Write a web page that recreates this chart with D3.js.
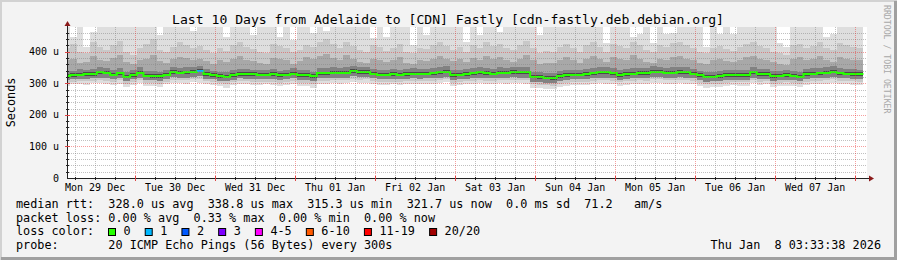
<!doctype html>
<html lang="en">
<head>
<meta charset="UTF-8" />
<title>Last 10 Days from Adelaide to [CDN] Fastly</title>
<style>
  html, body { margin: 0; padding: 0; background: #f3f3f3; }
  svg { display: block; }
  text { font-family: "DejaVu Sans Mono", monospace; fill: #000; white-space: pre; }
</style>
</head>
<body>
<svg id="chart" width="897" height="260"></svg>
<script src="https://cdn.jsdelivr.net/npm/d3@7"></script>
<script>
// one value per 2 hour step, 120 steps, in microseconds
const median = [
  323,325,327,328,329,334,333,327,331,321,326,333,324,323,322,327,335,333,334,337,
  339,328,326,322,320,325,329,329,328,327,327,328,326,327,330,326,326,322,331,331,
  333,333,333,338,335,335,330,327,327,328,327,329,330,330,330,331,334,336,326,327,
  329,331,334,332,330,333,333,335,334,334,320,319,317,316,322,326,327,327,328,331,
  334,334,331,326,329,330,332,332,337,336,333,333,335,334,330,325,320,321,322,325,
  326,326,326,334,328,329,322,324,326,324,321,329,330,331,333,336,331,330,329,328
];
const smokeMax = [
  500,447,500,415,463,500,500,500,500,500,500,500,500,500,453,500,500,500,500,465,
  500,500,500,500,447,500,500,500,453,500,500,500,447,500,437,500,500,460,500,465,
  500,500,500,500,500,500,442,500,447,500,500,500,421,500,453,500,500,500,500,500,
  431,500,453,500,500,463,500,500,500,500,500,453,500,500,500,500,500,500,500,500,
  500,427,500,500,500,447,457,500,427,500,457,460,500,500,500,500,415,500,457,500,
  457,500,500,500,500,500,500,427,415,500,500,500,500,500,447,457,500,500,500,500
];
const smokeP18 = [
  410,425,400,395,430,415,405,420,435,400,390,410,425,440,405,398,415,430,420,412,
  418,405,395,410,402,420,430,415,408,400,395,425,418,410,398,405,422,415,430,440,
  425,410,432,418,405,398,420,415,402,410,425,400,395,412,408,420,430,418,405,415,
  400,422,410,430,418,425,412,405,420,435,410,395,402,400,415,425,410,398,420,430,
  415,400,425,418,410,432,420,405,398,422,415,428,430,420,410,400,395,412,418,408,
  402,415,425,430,418,410,400,395,390,420,425,410,418,430,412,405,428,420,415,410
];
const smokeP15 = [
  372,378,365,368,385,375,370,380,388,366,360,372,378,390,370,365,376,384,380,374,
  378,370,362,372,366,378,386,374,370,365,360,380,376,372,362,370,382,376,385,392,
  380,372,388,378,368,364,376,374,366,372,382,364,360,374,370,378,386,376,370,376,
  366,380,372,386,378,382,374,368,378,390,372,360,365,364,374,382,372,365,378,386,
  376,366,382,376,372,388,378,368,364,378,374,384,386,378,372,364,360,372,376,370,
  366,374,382,386,376,372,366,362,358,378,382,372,376,386,372,368,384,378,374,372
];
const smokeP12 = [
  338,340,344,342,345,350,348,341,347,336,342,350,339,338,337,343,352,348,350,352,
  355,344,340,337,335,341,346,344,343,342,341,345,340,343,347,341,342,337,348,347,
  350,349,350,356,352,351,346,342,343,344,342,346,347,345,346,348,352,353,341,343,
  345,348,352,348,346,350,349,352,351,350,336,334,332,332,338,342,343,342,344,348,
  352,350,347,342,346,347,349,348,354,352,349,350,352,350,346,340,335,336,338,341,
  342,342,341,351,344,346,338,340,342,339,337,346,347,348,350,353,347,346,345,343
];
const smokeCoreHi = [
  329,331,333,334,335,340,339,333,337,327,332,339,330,329,328,333,341,339,340,343,
  345,334,332,328,326,331,335,335,334,333,333,334,332,333,336,332,332,328,337,337,
  339,339,339,344,341,341,336,333,333,334,333,335,336,336,336,337,340,342,332,333,
  335,337,340,338,336,339,339,341,340,340,326,325,323,322,328,332,333,333,334,337,
  340,340,337,332,335,336,338,338,343,342,339,339,341,340,336,331,326,327,328,331,
  332,332,332,340,334,335,328,330,332,330,327,335,336,337,339,342,337,336,335,334
];
const smokeCoreLo = [
  318,320,322,323,324,329,328,322,326,316,321,328,319,318,317,322,330,328,329,332,
  334,323,321,317,315,320,324,324,323,322,322,323,321,322,325,321,321,317,326,326,
  328,328,328,333,330,330,325,322,322,323,322,324,325,325,325,326,329,331,321,322,
  324,326,329,327,325,328,328,330,329,329,315,314,312,311,317,321,322,322,323,326,
  329,329,326,321,324,325,327,327,332,331,328,328,330,329,325,320,315,316,317,320,
  321,321,321,329,323,324,317,319,321,319,316,324,325,326,328,331,326,325,324,323
];
const smokeP5 = [
  310,312,313,314,315,318,317,313,316,307,312,318,310,309,308,313,319,318,318,321,
  322,314,312,308,306,311,315,314,313,312,313,313,311,313,315,311,311,307,316,316,
  318,317,318,322,319,320,315,312,312,313,312,314,315,314,315,316,318,320,311,312,
  314,316,318,316,315,318,317,319,318,318,305,304,302,301,307,311,312,312,313,316,
  318,318,316,311,314,315,317,316,320,320,317,317,319,318,315,310,305,306,307,310,
  311,311,311,318,313,314,307,309,311,309,306,313,315,316,317,320,316,315,314,313
];
const smokeP2 = [
  302,305,306,306,308,310,308,305,309,298,304,310,302,300,299,305,311,310,309,313,
  312,306,304,300,297,303,307,306,305,304,305,305,302,305,307,302,301,297,308,308,
  310,309,311,314,311,312,307,304,303,305,304,306,307,306,307,308,310,312,302,304,
  306,308,310,308,307,310,309,311,310,309,296,295,293,292,298,302,304,303,305,308,
  310,310,308,303,306,307,309,308,312,312,309,309,311,310,307,301,296,297,298,302,
  303,303,303,310,305,306,298,301,303,301,297,305,307,308,309,312,308,307,306,305
];
const smokeMin = [
  292,296,298,295,300,302,298,294,299,288,295,300,292,290,289,296,302,300,298,304,
  300,296,294,290,286,293,298,296,295,294,296,295,292,294,298,292,290,286,298,297,
  300,298,302,304,300,301,297,294,293,296,295,297,298,296,297,298,300,303,292,294,
  296,298,300,297,296,300,299,301,300,299,286,284,282,281,288,292,294,293,295,298,
  300,299,297,292,295,296,299,297,302,301,298,298,300,299,296,290,286,287,288,292,
  293,292,292,300,294,296,288,290,292,290,287,295,296,297,299,302,297,296,295,294
];
const lossCount = [
  0,0,0,0,0,0,0,0,0,0,0,0,0,0,0,0,0,0,0,0,
  1,0,0,0,0,0,0,0,0,0,0,0,0,0,0,0,0,0,0,0,
  0,0,0,0,0,0,0,0,0,0,0,0,0,0,0,0,0,0,0,0,
  0,0,0,0,0,0,0,0,0,0,0,0,0,0,0,0,0,0,0,0,
  0,0,0,0,0,0,0,0,0,0,0,0,0,0,0,0,0,0,0,0,
  0,0,0,0,0,0,0,0,0,0,0,0,0,0,0,0,0,0,0,0
];

const lossLabels = ["0", "1", "2", "3", "4-5", "6-10", "11-19", "20/20"];
const lossColors = ["#26ff00", "#00b8ff", "#0059ff", "#7e00ff", "#ff00ff", "#ff5a00", "#ff0000", "#a10000"];
const rttStats = [328.0, 338.8, 315.3, 321.7];
const lossStats = [0.00, 0.33, 0.00, 0.00];
const yTicks = [0, 100, 200, 300, 400];

const start = new Date(2025, 11, 29, 3, 33, 38);
const end = new Date(2026, 0, 8, 3, 33, 38);
const firstStep = new Date(2025, 11, 29, 2, 30, 0);
const stepMs = 2 * 3600 * 1000;

const W = 897, H = 260;
const pLeft = 67, pRight = 867, pTop = 27, pBottom = 178;

const svg = d3.select("#chart");
const x = d3.scaleTime().domain([start, end]).range([pLeft, pRight]);
const y = d3.scaleLinear().domain([0, 478]).range([pBottom, pTop]);

// background + 3d frame
svg.append("rect").attr("width", W).attr("height", H).attr("fill", "#f3f3f3");
svg.append("path").attr("d", `M1,${H} V1 H${W}`).attr("fill", "none").attr("stroke", "#d2d2d2").attr("stroke-width", 2);
svg.append("path").attr("d", `M${W - 1.5},1 V${H - 1.5} H1`).attr("fill", "none").attr("stroke", "#a0a0a0").attr("stroke-width", 3);

svg.append("rect").attr("x", pLeft).attr("y", pTop).attr("width", pRight - pLeft).attr("height", pBottom - pTop).attr("fill", "#fff");

svg.append("clipPath").attr("id", "plot").append("rect")
    .attr("x", pLeft).attr("y", pTop).attr("width", pRight - pLeft).attr("height", pBottom - pTop);

const steps = median.map((m, i) => ({ t: new Date(firstStep.getTime() + i * stepMs), i }));
steps.push({ t: new Date(firstStep.getTime() + median.length * stepMs), i: median.length - 1 });

const plot = svg.append("g").attr("clip-path", "url(#plot)");

// smoke: nested bands from outer (light) to inner (dark)
const bands = [
    [smokeMin, smokeMax, "#dedede"],
    [smokeP2, smokeP18, "#c8c8c8"],
    [smokeP5, smokeP15, "#a8a8a8"],
    [smokeP5, smokeP12, "#828282"],
    [smokeCoreLo, smokeCoreHi, "#4a4a4a"]
];
bands.forEach(([lo, hi, color]) => {
    const area = d3.area()
        .curve(d3.curveStepAfter)
        .x(d => x(d.t))
        .y0(d => y(lo[d.i]))
        .y1(d => y(hi[d.i]));
    plot.append("path").datum(steps).attr("d", area).attr("fill", color)
        .attr("shape-rendering", "crispEdges");
});

// grid
const grid = svg.append("g");
const minorX = d3.timeHour.every(6).range(start, end).filter(d => d.getHours() !== 0);
const majorX = d3.timeDay.range(start, end);
grid.selectAll(".vminor").data(minorX).enter().append("line")
    .attr("x1", d => Math.round(x(d)) + 0.5).attr("x2", d => Math.round(x(d)) + 0.5)
    .attr("y1", pTop).attr("y2", pBottom)
    .attr("stroke", "rgba(130,130,130,0.5)").attr("stroke-dasharray", "1,1");
const minorY = d3.range(20, 478, 20).filter(v => v % 100 !== 0);
grid.selectAll(".hminor").data(minorY).enter().append("line")
    .attr("x1", pLeft).attr("x2", pRight)
    .attr("y1", d => Math.round(y(d)) + 0.5).attr("y2", d => Math.round(y(d)) + 0.5)
    .attr("stroke", "rgba(130,130,130,0.5)").attr("stroke-dasharray", "1,1");
grid.selectAll(".vmajor").data(majorX).enter().append("line")
    .attr("x1", d => Math.round(x(d)) + 0.5).attr("x2", d => Math.round(x(d)) + 0.5)
    .attr("y1", pTop).attr("y2", pBottom)
    .attr("stroke", "rgba(235,40,40,0.45)").attr("stroke-dasharray", "1,1");
grid.selectAll(".hmajor").data(yTicks.filter(v => v > 0)).enter().append("line")
    .attr("x1", pLeft).attr("x2", pRight)
    .attr("y1", d => Math.round(y(d)) + 0.5).attr("y2", d => Math.round(y(d)) + 0.5)
    .attr("stroke", "rgba(235,40,40,0.45)").attr("stroke-dasharray", "1,1");

// median line, coloured by loss
const lossIndex = n => n === 0 ? 0 : n <= 3 ? n : n <= 5 ? 4 : n <= 10 ? 5 : n < 20 ? 6 : 7;
const line = d3.line().curve(d3.curveStepAfter).x(d => x(d.t)).y(d => Math.round(y(median[d.i])));
plot.append("path").datum(steps).attr("d", line)
    .attr("fill", "none").attr("stroke", lossColors[0]).attr("stroke-width", 2);
steps.slice(0, -1).filter(d => lossCount[d.i] > 0).forEach(d => {
    plot.append("line")
        .attr("x1", x(d.t)).attr("x2", x(steps[d.i + 1].t))
        .attr("y1", Math.round(y(median[d.i]))).attr("y2", Math.round(y(median[d.i])))
        .attr("stroke", lossColors[lossIndex(lossCount[d.i])]).attr("stroke-width", 2);
});

// axes
const axis = svg.append("g").attr("stroke", "#222").attr("shape-rendering", "crispEdges");
axis.append("line").attr("x1", pLeft).attr("x2", pRight + 3).attr("y1", pBottom + 0.5).attr("y2", pBottom + 0.5);
axis.append("line").attr("x1", pLeft + 0.5).attr("x2", pLeft + 0.5).attr("y1", pBottom).attr("y2", pTop - 3);
axis.selectAll(".xt").data(minorX).enter().append("line")
    .attr("x1", d => Math.round(x(d)) + 0.5).attr("x2", d => Math.round(x(d)) + 0.5)
    .attr("y1", pBottom - 1).attr("y2", pBottom + 2);
axis.selectAll(".xT").data(majorX).enter().append("line")
    .attr("x1", d => Math.round(x(d)) + 0.5).attr("x2", d => Math.round(x(d)) + 0.5)
    .attr("y1", pBottom - 2).attr("y2", pBottom + 3).attr("stroke", "#d44");
axis.selectAll(".yt").data(minorY).enter().append("line")
    .attr("x1", pLeft - 1).attr("x2", pLeft + 2)
    .attr("y1", d => Math.round(y(d)) + 0.5).attr("y2", d => Math.round(y(d)) + 0.5);
axis.selectAll(".yT").data(yTicks.filter(v => v > 0)).enter().append("line")
    .attr("x1", pLeft - 2).attr("x2", pLeft + 3)
    .attr("y1", d => Math.round(y(d)) + 0.5).attr("y2", d => Math.round(y(d)) + 0.5).attr("stroke", "#d44");

svg.append("path").attr("d", `M${pRight + 2},${pBottom - 2.5} L${pRight + 7},${pBottom + 0.5} L${pRight + 2},${pBottom + 3.5} Z`).attr("fill", "#8b1a1a");
svg.append("path").attr("d", `M${pLeft - 2.5},${pTop - 1} L${pLeft + 0.5},${pTop - 6} L${pLeft + 3.5},${pTop - 1} Z`).attr("fill", "#8b1a1a");

// tick labels
svg.selectAll(".ylab").data(yTicks).enter().append("text")
    .attr("x", 59).attr("y", d => y(d) + 3.6)
    .attr("text-anchor", "end").attr("font-size", "10px")
    .text(d => d === 0 ? "0" : `${d} u`);
const days = d3.timeDay.range(d3.timeDay.floor(start), d3.timeDay.floor(end));
const fmt = d3.timeFormat("%a %d %b");
svg.selectAll(".xlab").data(days).enter().append("text")
    .attr("x", d => x(d3.timeHour.offset(d, 12))).attr("y", 191)
    .attr("text-anchor", "middle").attr("font-size", "10px")
    .text(d => fmt(d));

// titles
svg.append("text").attr("x", 448).attr("y", 24).attr("text-anchor", "middle").attr("font-size", "13.1px")
    .text("Last 10 Days from Adelaide to [CDN] Fastly [cdn-fastly.deb.debian.org]");
svg.append("text").attr("transform", `translate(15,${(pTop + pBottom) / 2}) rotate(-90)`)
    .attr("text-anchor", "middle").attr("font-size", "11.8px").text("Seconds");
svg.append("text").attr("transform", "translate(884,5) rotate(90)")
    .attr("font-size", "8.2px").style("fill", "#a8a8a8")
    .text("RRDTOOL / TOBI OETIKER");

// legend
const f1 = v => v.toFixed(1), f2 = v => v.toFixed(2);
const lx = 16;
const legend = svg.append("g").attr("font-size", "11.8px");
legend.append("text").attr("x", lx).attr("y", 208.3)
    .text(`median rtt:  ${f1(rttStats[0])} us avg  ${f1(rttStats[1])} us max  ${f1(rttStats[2])} us min  ${f1(rttStats[3])} us now  0.0 ms sd  71.2   am/s`);
legend.append("text").attr("x", lx).attr("y", 221.8)
    .text(`packet loss: ${f2(lossStats[0])} % avg  ${f2(lossStats[1])} % max  ${f2(lossStats[2])} % min  ${f2(lossStats[3])} % now`);
legend.append("text").attr("x", lx).attr("y", 235.4).text("loss color:");
const cw = 7.12;
let bx = 108.5;
lossLabels.forEach((lab, k) => {
    legend.append("rect").attr("x", bx).attr("y", 228.5).attr("width", 7).attr("height", 7)
        .attr("fill", lossColors[k]).attr("stroke", "#000");
    legend.append("text").attr("x", bx + 15).attr("y", 235.4).text(lab);
    bx += 15 + lab.length * cw + 14.6;
});
legend.append("text").attr("x", lx).attr("y", 249.3).text("probe:       20 ICMP Echo Pings (56 Bytes) every 300s");
legend.append("text").attr("x", 881).attr("y", 249.3).attr("text-anchor", "end").text("Thu Jan  8 03:33:38 2026");
</script>
</body>
</html>
